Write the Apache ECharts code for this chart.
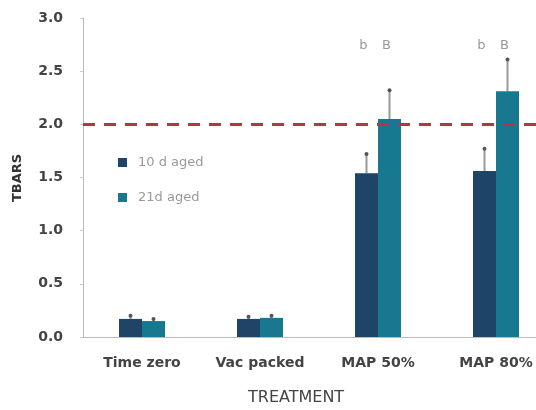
<!DOCTYPE html>
<html><head><meta charset="utf-8">
<script src="https://cdn.jsdelivr.net/npm/echarts@6/dist/echarts.min.js"></script>
<style>html,body{margin:0;padding:0;background:#fff}#c{width:536px;height:410px}</style>
</head><body><div id="c"></div>
<script>
var categories = ['Time zero', 'Vac packed', 'MAP 50%', 'MAP 80%'];
var aged10 = [0.17, 0.17, 1.54, 1.56];
var aged10Err = [0.03, 0.02, 0.18, 0.21];
var aged21 = [0.15, 0.18, 2.05, 2.31];
var aged21Err = [0.02, 0.02, 0.27, 0.30];
var letters10 = ['', '', 'b', 'b'];
var letters21 = ['', '', 'B', 'B'];
var letterY = 2.76;
var threshold = 2.0;

var C1 = '#1e4468', C2 = '#177890';
var FONT = '"DejaVu Sans", sans-serif';

function errSeries(vals, errs, idx) {
  return {
    type: 'custom', z: 1,
    renderItem: function (params, api) {
      var i = api.value(0);
      var base = api.coord([i, vals[i]]);
      var top = api.coord([i, vals[i] + errs[i]]);
      var x = base[0] + (idx === 0 ? -0.5 : 0.5) * 23;
      return { type: 'group', children: [
        { type: 'line', shape: { x1: x, y1: base[1], x2: x, y2: top[1] }, style: { stroke: '#999', lineWidth: 2 } },
        { type: 'circle', shape: { cx: x, cy: top[1], r: 2 }, style: { fill: '#555' } }
      ]};
    },
    data: categories.map(function (c, i) { return [i]; }),
    silent: true
  };
}
function letterSeries(letters, idx) {
  return {
    type: 'custom',
    renderItem: function (params, api) {
      var i = api.value(0);
      var p = api.coord([i, letterY]);
      var x = p[0] + (idx === 0 ? -0.5 : 0.5) * 23 - 3;
      return { type: 'text', style: { text: letters[i], x: x, y: p[1] + 2, textAlign: 'center', textVerticalAlign: 'middle', fill: '#999', font: '13px ' + FONT } };
    },
    data: categories.map(function (c, i) { return [i]; }),
    silent: true
  };
}

var chart = echarts.init(document.getElementById('c'));
chart.setOption({
  animation: false,
  grid: { left: 83, width: 472, top: 18, bottom: 73, containLabel: false, outerBoundsMode: 'none' },
  legend: {
    orient: 'vertical', left: 113, top: 151, itemGap: 22,
    itemWidth: 9, itemHeight: 9, icon: 'rect',
    textStyle: { color: '#999', fontSize: 13, fontFamily: FONT, padding: [0, 0, 0, 6] },
    data: ['10 d aged', '21d aged']
  },
  graphic: [
    { type: 'text', left: 248, top: 390, style: { text: 'TREATMENT', fill: '#444', font: '16px ' + FONT } },
    { type: 'text', x: 11, y: 202, rotation: Math.PI / 2, style: { text: 'TBARS', fill: '#333', font: 'bold 13px ' + FONT } }
  ],
  xAxis: {
    type: 'category', data: categories,
    axisLine: { lineStyle: { color: '#bbb', width: 1 } },
    axisTick: { show: false },
    axisLabel: { interval: 0, color: '#444', fontSize: 14, fontWeight: 'bold', margin: 19, fontFamily: FONT }
  },
  yAxis: {
    type: 'value', min: 0, max: 3, interval: 0.5,
    axisLine: { show: true, lineStyle: { color: '#bbb' } },
    axisTick: { show: true, length: 3, lineStyle: { color: '#ccc' } },
    splitLine: { show: false },
    axisLabel: { color: '#444', fontSize: 14, fontWeight: 'bold', margin: 20, fontFamily: FONT,
      formatter: function (v) { return v.toFixed(1); } }
  },
  series: [
    { name: '10 d aged', type: 'bar', data: aged10, barWidth: 23, barGap: '0%', itemStyle: { color: C1 },
      markLine: { silent: true, symbol: 'none', label: { show: false },
        lineStyle: { color: '#b03845', type: [12, 9], width: 3 },
        data: [{ yAxis: threshold }] } },
    { name: '21d aged', type: 'bar', data: aged21, barWidth: 23, barGap: '0%', itemStyle: { color: C2 } },
    errSeries(aged10, aged10Err, 0),
    errSeries(aged21, aged21Err, 1),
    letterSeries(letters10, 0),
    letterSeries(letters21, 1)
  ]
});
</script></body></html>
